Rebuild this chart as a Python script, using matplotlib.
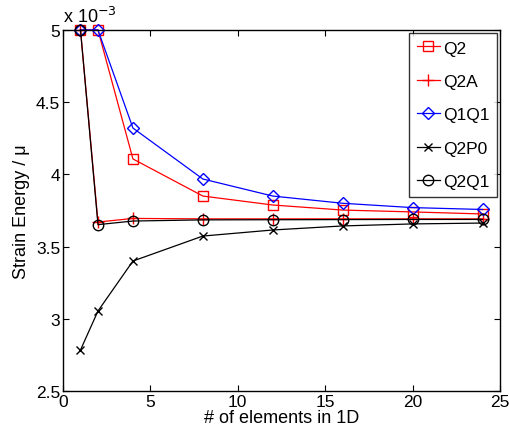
import matplotlib
matplotlib.use("Agg")
import matplotlib.pyplot as plt

plt.rcParams['font.family'] = ['Liberation Sans', 'DejaVu Sans']

n_elem = [1, 2, 4, 8, 12, 16, 20, 24]
q2 = [5.0, 5.0, 4.107, 3.85, 3.788, 3.753, 3.74, 3.726]
q2a = [5.0, 3.67, 3.695, 3.692, 3.692, 3.692, 3.692, 3.692]
q1q1 = [5.0, 5.0, 4.321, 3.968, 3.85, 3.80, 3.77, 3.757]
q2p0 = [2.784, 3.054, 3.40, 3.573, 3.615, 3.643, 3.657, 3.663]
q2q1 = [5.0, 3.652, 3.677, 3.685, 3.686, 3.687, 3.688, 3.688]

fig = plt.figure(figsize=(5.09, 4.31), dpi=100)
ax = fig.add_axes([0.1238, 0.0905, 0.8585, 0.8376])

kw = dict(lw=0.9, clip_on=False)
ax.plot(n_elem, q2, color='red', marker='s', mfc='none', ms=6.5, label='Q2', **kw)
ax.plot(n_elem, q2a, color='red', marker='+', ms=9, label='Q2A', **kw)
ax.plot(n_elem, q1q1, color='blue', marker='D', mfc='none', ms=6.5, label='Q1Q1', **kw)
ax.plot(n_elem, q2p0, color='black', marker='x', ms=5.5, label='Q2P0', **kw)
ax.plot(n_elem, q2q1, color='black', marker='o', mfc='none', ms=7.5, label='Q2Q1', **kw)

ax.set_xlim(0, 25)
ax.set_ylim(2.5, 5.0)
ax.set_xticks([0, 5, 10, 15, 20, 25])
ax.set_yticks([2.5, 3, 3.5, 4, 4.5, 5])
ax.set_yticklabels(['2.5', '3', '3.5', '4', '4.5', '5'])
ax.tick_params(direction='in', top=True, right=True, labelsize=12.5, length=4, pad=2)
for s in ax.spines.values():
    s.set_linewidth(1.0)

ax.set_xlabel('# of elements in 1D', fontsize=13, labelpad=0)
ax.set_ylabel('Strain Energy / \u03bc', fontsize=13, labelpad=4)
ax.text(0.0, 1.01, 'x 10$^{-3}$', transform=ax.transAxes, fontsize=13, ha='left', va='bottom')

leg = ax.legend(loc='upper right', fontsize=12.5, frameon=True, fancybox=False,
                edgecolor='black', handlelength=1.3, borderaxespad=0.15,
                labelspacing=1.05, handletextpad=0.2, borderpad=0.45)
leg.get_frame().set_linewidth(1.0)
leg.set_zorder(5)

fig.savefig('out.png', dpi=100)
